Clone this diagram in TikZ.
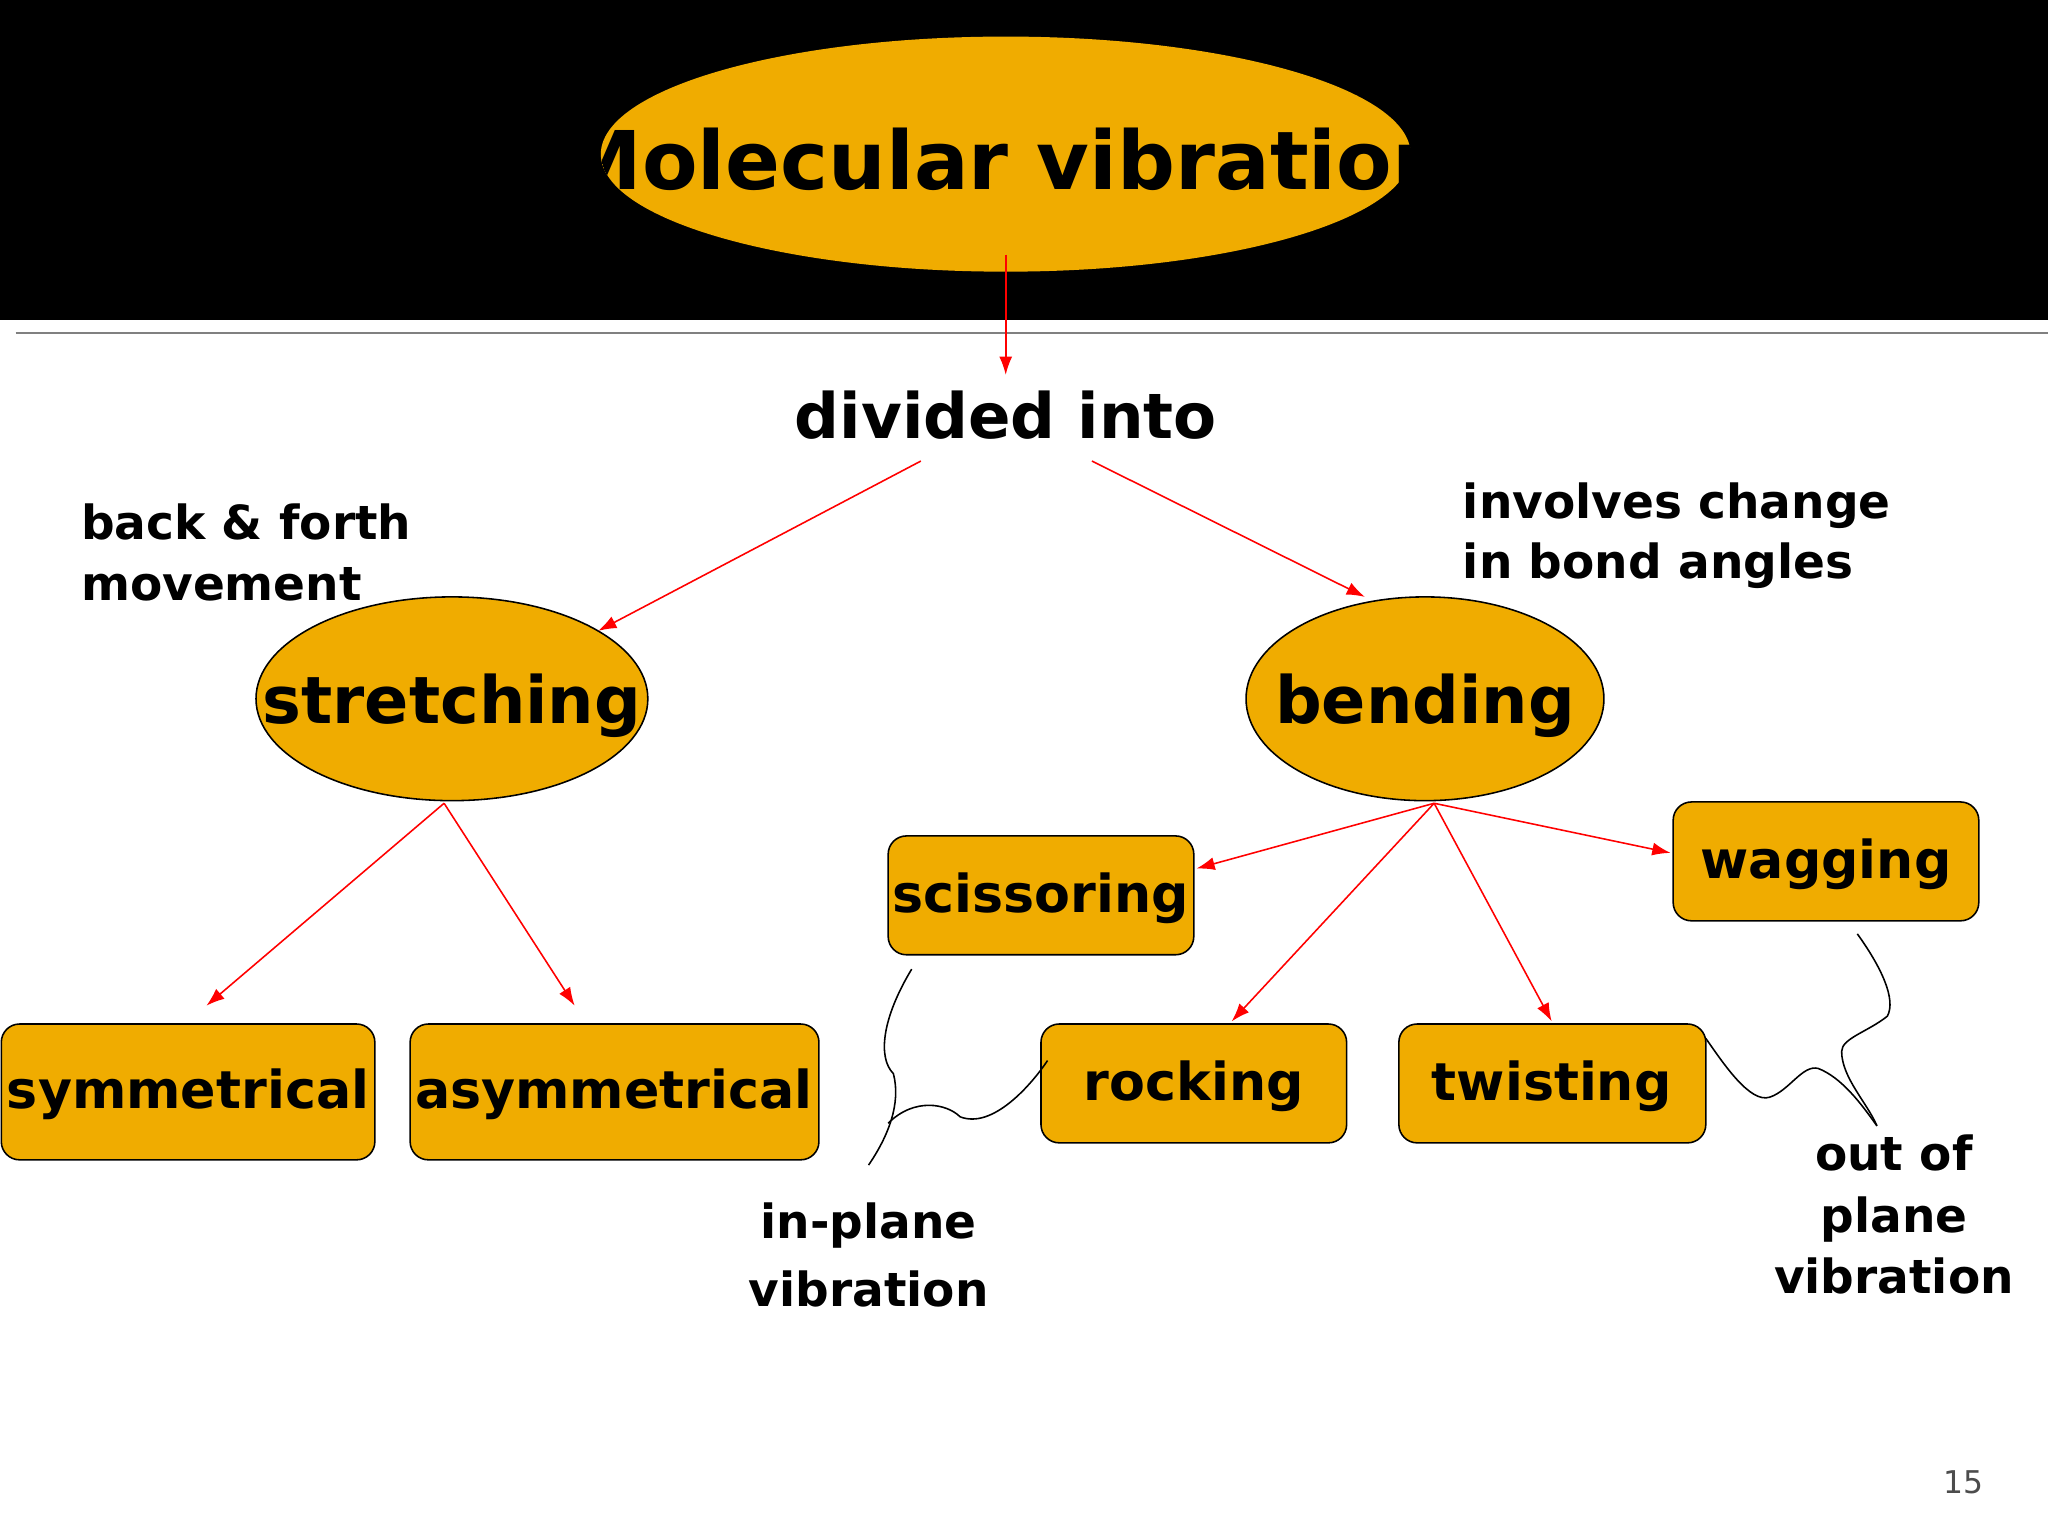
\documentclass[tikz,border=0pt]{standalone}
\usepackage{fontspec}
\setmainfont{DejaVu Sans}
\usetikzlibrary{arrows.meta}
\definecolor{gold}{HTML}{F0AC00}
\begin{document}
\begin{tikzpicture}[x=0.5pt,y=-0.5pt,
 arr/.style={draw=red,-{Latex[length=7pt,width=5pt]},line width=0.6pt},
 box/.style={draw=black,fill=gold,rounded corners=7pt,line width=0.6pt},
 ell/.style={draw=black,fill=gold,line width=0.6pt},
 lab/.style={font=\bfseries\fontsize{18}{23}\selectfont,align=left,anchor=west},
 btxt/.style={font=\bfseries\fontsize{20}{24}\selectfont},
 brace/.style={draw=black,line width=0.6pt}]
\useasboundingbox (0,0) rectangle (1568,1176);
\fill[white] (0,0) rectangle (1568,1176);
\fill[black] (0,0) rectangle (1568,245);
\draw[gray,line width=0.8pt] (12,255) -- (1568,255);
% title
\fill[gold] (770,118) ellipse [x radius=310, y radius=90];
\begin{scope}
\clip (770,118) ellipse [x radius=310, y radius=90];
\node (title) at (770,122) {\bfseries\fontsize{31}{36}\selectfont Molecular vibration};
\end{scope}
\coordinate (tb) at (770,195);
\node (div) at (770,318) {\bfseries\fontsize{24}{28}\selectfont divided into};
\draw[arr] (tb) -- (770,287);
\node[lab] (bf) at (55,423) {back \& forth\\movement};
\node[lab] (inv) at (1113,410) {involves change\\in bond angles};
\draw[ell] (346,535) ellipse [x radius=150, y radius=78];
\node (st) at (346,540) {\bfseries\fontsize{25}{30}\selectfont stretching};
\draw[ell] (1091,535) ellipse [x radius=137, y radius=78];
\node (be) at (1091,540) {\bfseries\fontsize{25}{30}\selectfont bending};
\coordinate (d1) at (705,353); \coordinate (d2) at (836,353);
\coordinate (s1) at (458,483); \coordinate (b1) at (1045,457);
\draw[arr] (d1) -- (s1);
\draw[arr] (d2) -- (b1);
\draw[box] (1,784) rectangle (287,888); \node[btxt] (sym) at (144,838) {symmetrical};
\draw[box] (314,784) rectangle (627,888); \node[btxt] (asym) at (470,838) {asymmetrical};
\draw[box] (680,640) rectangle (914,731); \node[btxt] (sci) at (797,688) {scissoring};
\draw[box] (797,784) rectangle (1031,875); \node[btxt] (roc) at (914,832) {rocking};
\draw[box] (1071,784) rectangle (1306,875); \node[btxt] (twi) at (1188,832) {twisting};
\draw[box] (1281,614) rectangle (1515,705); \node[btxt] (wag) at (1398,662) {wagging};
\coordinate (sb) at (340,615); \coordinate (bb) at (1098,615);
\draw[arr] (sb) -- (158,770);
\draw[arr] (sb) -- (440,770);
\draw[arr] (bb) -- (916,665);
\draw[arr] (bb) -- (943,782);
\draw[arr] (bb) -- (1188,782);
\draw[arr] (bb) -- (1279,653);
% braces
\draw[brace] (698,742) .. controls (675,780) and (672,810) .. (684,822) .. controls (690,845) and (680,870) .. (665,892);
\draw[brace] (680,860) .. controls (700,840) and (725,845) .. (735,855) .. controls (760,865) and (790,830) .. (802,812);
\draw[brace] (1422,715) .. controls (1440,740) and (1452,765) .. (1445,778) .. controls (1430,790) and (1410,795) .. (1410,805) .. controls (1410,825) and (1430,845) .. (1437,862);
\draw[brace] (1306,795) .. controls (1320,815) and (1340,845) .. (1355,840) .. controls (1370,835) and (1380,815) .. (1392,818) .. controls (1410,825) and (1425,845) .. (1437,862);
\node[font=\bfseries\fontsize{18}{26}\selectfont,align=center] (ip) at (665,961) {in-plane\\vibration};
\node[font=\bfseries\fontsize{18}{23.5}\selectfont,align=center] (op) at (1450,930) {out of\\plane\\vibration};
\node[gray!60!black,font=\fontsize{12}{14}\selectfont] (pg) at (1503,1135) {15};
\end{tikzpicture}
\end{document}
